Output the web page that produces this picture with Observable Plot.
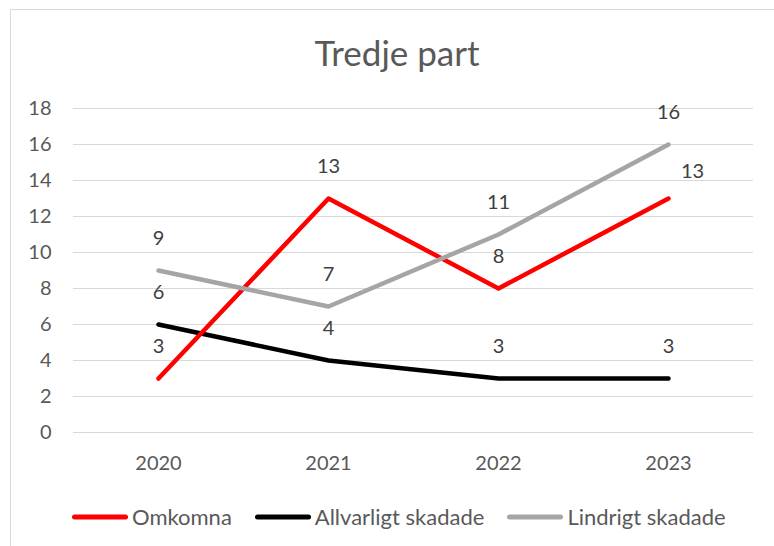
<!DOCTYPE html>
<html>
<head>
<meta charset="utf-8">
<script src="https://cdn.jsdelivr.net/npm/d3@7"></script>
<script src="https://cdn.jsdelivr.net/npm/@observablehq/plot@0.6"></script>
<style>
  html, body { margin: 0; padding: 0; background: #fff; }
  #wrap { position: relative; width: 774px; height: 546px; overflow: hidden; font-family: Lato, sans-serif; }
  #frame { position: absolute; left: 10px; top: 9px; width: 800px; height: 600px; border-left: 1px solid #d9d9d9; border-top: 1px solid #d9d9d9; }
  #title { position: absolute; left: 10px; width: 774px; top: 35px; text-align: center; font-size: 35px; line-height: 35px; color: #595959; }
  #chart { position: absolute; left: 0; top: 85px; }
  #legend { position: absolute; left: 72px; top: 505px; height: 24px; display: flex; align-items: center; gap: 23px; font-size: 22px; line-height: 24px; color: #595959; }
  .item { display: flex; align-items: center; gap: 4px; }
</style>
</head>
<body>
<div id="wrap">
  <div id="frame"></div>
  <div id="title"></div>
  <div id="chart"></div>
  <div id="legend"></div>
</div>
<script>
const title = "Tredje part";
const years = ["2020", "2021", "2022", "2023"];
const seriesNames = ["Omkomna", "Allvarligt skadade", "Lindrigt skadade"];
const omkomna = [3, 13, 8, 13];
const allvarligt = [6, 4, 3, 3];
const lindrigt = [9, 7, 11, 16];
const colors = ["#ff0000", "#000000", "#a5a5a5"];
const yTicks = [0, 2, 4, 6, 8, 10, 12, 14, 16, 18];

const values = [omkomna, allvarligt, lindrigt];
const rows = [];
seriesNames.forEach((s, i) => years.forEach((y, j) => rows.push({series: s, year: y, value: values[i][j]})));

document.getElementById("title").textContent = title;

const lineOf = (i) => Plot.line(rows.filter(d => d.series === seriesNames[i]), {
  x: "year", y: "value", stroke: colors[i], strokeWidth: 4.5, strokeLinecap: "round", strokeLinejoin: "round"
});

const isSpecial = d => d.series === "Omkomna" && d.year === "2023";

const chart = Plot.plot({
  width: 774,
  height: 400,
  marginTop: 23,
  marginBottom: 53,
  marginLeft: 73,
  marginRight: 21,
  style: {fontFamily: "Lato, sans-serif", fontSize: "20px", color: "#595959", background: "transparent"},
  x: {type: "point", domain: years, padding: 0.5, label: null},
  y: {domain: [0, 18], label: null},
  marks: [
    Plot.gridY(yTicks, {stroke: "#d9d9d9", strokeOpacity: 1, strokeWidth: 1}),
    Plot.axisY(yTicks, {tickSize: 0, tickPadding: 22, label: null, fill: "#595959"}),
    Plot.axisX({tickSize: 0, tickPadding: 23, label: null, fill: "#595959"}),
    lineOf(1),
    lineOf(0),
    lineOf(2),
    Plot.text(rows.filter(d => !isSpecial(d)), {x: "year", y: "value", text: d => String(d.value), dy: -32, fill: "#404040", fontSize: 20}),
    Plot.text(rows.filter(isSpecial), {x: "year", y: "value", text: d => String(d.value), dx: 24, dy: -27, fill: "#404040", fontSize: 20})
  ]
});
document.getElementById("chart").appendChild(chart);

const legend = document.getElementById("legend");
seriesNames.forEach((s, i) => {
  const item = document.createElement("div");
  item.className = "item";
  item.innerHTML = `<svg width="56" height="10"><line x1="2.5" y1="5" x2="53.5" y2="5" stroke="${colors[i]}" stroke-width="5" stroke-linecap="round"/></svg><span>${s}</span>`;
  legend.appendChild(item);
});
</script>
</body>
</html>
